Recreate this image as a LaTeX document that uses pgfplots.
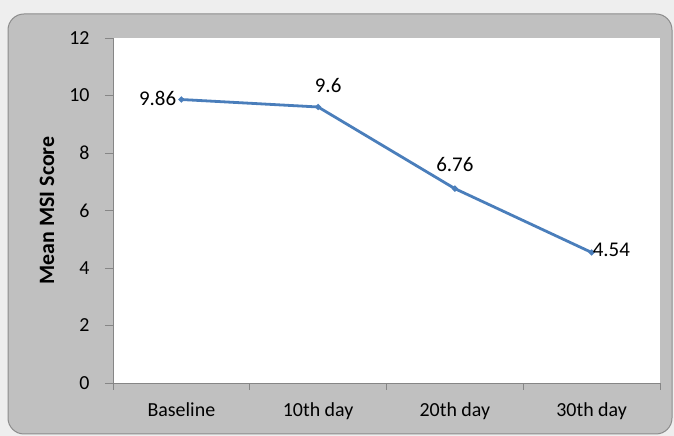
\documentclass[border=0pt]{standalone}
\usepackage{pgfplots}
\pgfplotsset{compat=1.18}
\usepackage{fontspec}
\setmainfont{Carlito}
\definecolor{outerbg}{HTML}{EEEEEE}
\definecolor{panel}{HTML}{C0C0C0}
\definecolor{panelborder}{HTML}{8C8C8C}
\definecolor{axisgray}{HTML}{868686}
\definecolor{lineblue}{HTML}{4A7EBB}
\begin{document}
\begin{tikzpicture}[x=1bp,y=1bp]
\fill[outerbg] (0,0) rectangle (674,436);
\draw[panelborder,line width=1bp,fill=panel,rounded corners=16bp] (8,2) rectangle (672,422);
\begin{axis}[
  at={(113bp,53bp)}, anchor=south west,
  scale only axis, width=547bp, height=345bp,
  xmin=-0.5, xmax=3.5, ymin=0, ymax=12,
  axis background/.style={fill=white},
  axis x line*=bottom, axis y line*=left,
  axis line style={axisgray,line width=0.9bp,-},
  xtick={0,1,2,3},
  xticklabels={Baseline,10th day,20th day,30th day},
  major x tick style={draw=none},
  minor xtick={-0.5,0.5,1.5,2.5,3.5},
  minor x tick style={axisgray,line width=0.9bp},
  ytick={0,2,4,6,8,10,12},
  y tick style={axisgray,line width=0.9bp},
  tick align=outside,
  major tick length=8bp, minor tick length=7bp,
  /pgf/number format/assume math mode=true,
  tick label style={font=\fontsize{20}{24}\selectfont, black},
  xticklabel style={yshift=-8bp},
  yticklabel style={xshift=-12bp},
  ylabel={\textbf{Mean MSI Score}},
  ylabel style={font=\fontsize{22}{26}\selectfont, at={(axis description cs:-0.1207,0.5)}, anchor=center},
  clip=false,
  lbl/.style={draw=none, mark=none, nodes near coords, point meta=explicit symbolic,
    every node near coord/.append style={font=\fontsize{21}{24}\selectfont, black, inner sep=0bp, #1}},
]
\addplot[lineblue, line width=2.8bp, mark=*, mark size=1.3bp] coordinates {(0,9.86) (1,9.6) (2,6.76) (3,4.54)};
\addplot[lbl={anchor=east, xshift=-5bp, yshift=1bp}] coordinates {(0,9.86) [9.86]};
\addplot[lbl={anchor=center, xshift=10bp, yshift=21bp}] coordinates {(1,9.6) [9.6]};
\addplot[lbl={anchor=center, xshift=0bp, yshift=24bp}] coordinates {(2,6.76) [6.76]};
\addplot[lbl={anchor=west, xshift=1bp, yshift=3bp}] coordinates {(3,4.54) [4.54]};
\end{axis}
\end{tikzpicture}
\end{document}
